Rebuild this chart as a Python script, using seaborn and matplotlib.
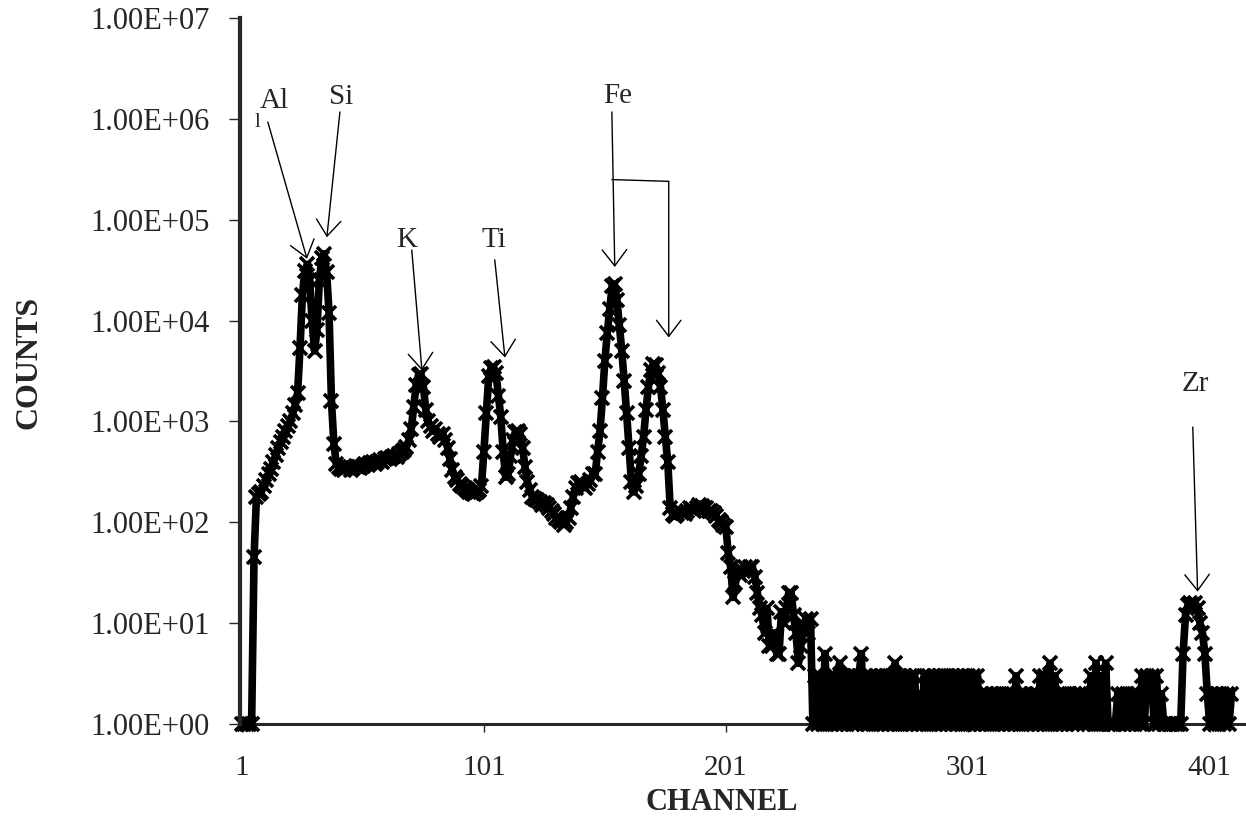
import numpy as np
import pandas as pd
import matplotlib
matplotlib.use("Agg")
import matplotlib.pyplot as plt
from matplotlib.ticker import FuncFormatter, NullLocator, FixedLocator
import seaborn as sns

# ---------------- data ----------------
# channels 1-100
counts_low = [1, 1, 1, 1, 1, 45, 180, 190, 200, 230,
              260, 300, 340, 400, 460, 540, 620, 700, 800, 900,
              1000, 1200, 1450, 1900, 5400, 18000, 31000, 36000, 25000, 10000,
              5000, 8000, 25000, 42000, 46000, 30000, 12000, 1600, 600, 380,
              350, 340, 330, 345, 350, 330, 345, 360, 350, 345,
              365, 375, 370, 385, 395, 380, 400, 410, 400, 420,
              430, 420, 440, 455, 440, 470, 500, 520, 560, 650,
              850, 1400, 2300, 2900, 2960, 2200, 1300, 1000, 900, 800,
              850, 750, 700, 750, 650, 550, 420, 330, 280, 260,
              240, 230, 220, 210, 200, 195, 190, 200, 210, 230]
# channels 101-236
counts_mid = [500, 1200, 2800, 3400, 3450, 3000, 1800, 1100, 500, 280,
              300, 450, 650, 780, 800, 750, 550, 350, 250, 210,
              180, 170, 165, 160, 150, 155, 150, 140, 130, 120,
              110, 105, 100, 95, 100, 110, 140, 180, 220, 245,
              250, 230, 220, 240, 260, 300, 300, 500, 800, 1700,
              4000, 7500, 13000, 22000, 23000, 16000, 9000, 5000, 2500, 1200,
              550, 250, 200, 230, 300, 450, 700, 1300, 2200, 3200,
              3700, 3600, 3000, 2200, 1300, 700, 400, 140, 120, 115,
              120, 130, 125, 120, 130, 140, 135, 130, 140, 150,
              145, 140, 140, 130, 130, 125, 115, 105, 100, 95,
              90, 50, 36, 18, 25, 33, 30, 33, 36, 33,
              36, 36, 29, 20, 14, 12, 8, 14, 6, 6,
              8, 5, 5, 13, 10, 14, 20, 20, 12, 8,
              4, 6, 9, 11, 8, 11]
# channels 237-388 (noise floor)
counts_noise = [1, 3, 1, 3, 1, 5, 1, 3, 1, 3,
                1, 4, 1, 3, 1, 3, 1, 3, 1, 3,
                5, 1, 3, 1, 3, 1, 3, 1, 3, 1,
                3, 1, 3, 1, 4, 1, 3, 1, 3, 1,
                3, 1, 3, 1, 2, 1, 3, 1, 3, 1,
                3, 1, 3, 1, 3, 1, 3, 1, 3, 1,
                3, 1, 3, 1, 3, 1, 3, 1, 3, 1,
                2, 1, 2, 1, 2, 1, 2, 1, 2, 1,
                2, 1, 2, 1, 3, 1, 2, 1, 2, 1,
                2, 1, 2, 1, 3, 1, 3, 1, 4, 1,
                3, 1, 2, 1, 2, 1, 2, 1, 2, 1,
                2, 2, 1, 2, 1, 3, 1, 4, 1, 3,
                1, 4, 1, 1, 1, 1, 2, 1, 2, 1,
                2, 1, 2, 1, 2, 1, 3, 1, 3, 2,
                3, 1, 3, 1, 2, 1, 1, 1, 1, 1,
                1, 1]
# channels 389-410 (Zr region)
counts_zr = [1, 5, 12, 15, 16, 15, 16, 14, 10, 8,
             5, 2, 1, 2, 1, 2, 1, 2, 1, 2,
             1, 2]

x_tick_values = [1, 101, 201, 301, 401]
y_tick_values = [1e0, 1e1, 1e2, 1e3, 1e4, 1e5, 1e6, 1e7]

# annotations: label, text position (channel, counts), arrow start, arrow tip
ann_labels = ["Al", "Si", "K", "Ti", "Fe", "Zr"]
ann_text_pos = [(14.2, 1.5e6), (41.9, 1.66e6), (69.2, 6.3e4),
                (105.0, 6.3e4), (156.4, 1.7e6), (395.2, 2.34e3)]
ann_arrow_from = [(11.7, 9.3e5), (41.5, 1.17e6), (71.2, 5.0e4),
                  (105.5, 4.0e4), (153.9, 1.17e6), (394.0, 8.8e2)]
ann_arrow_to = [(27.9, 4.1e4), (36.1, 6.7e4), (75.4, 3.2e3),
                (109.7, 4.3e3), (155.1, 3.4e4), (396.0, 20.5)]
# second Fe arrow (K-beta): branch start, corner, tip
fe_branch = [(153.9, 2.5e5), (177.4, 2.4e5), (177.4, 6.8e3)]

counts = np.array(counts_low + counts_mid + counts_noise + counts_zr, dtype=float)
channels = np.arange(1, len(counts) + 1)
df = pd.DataFrame({"CHANNEL": channels, "COUNTS": counts})

# ---------------- figure ----------------
sns.set_style("ticks")
plt.rcParams["font.family"] = ["Liberation Serif", "DejaVu Serif"]

fig = plt.figure(figsize=(12.46, 8.24), dpi=100)
ax = fig.add_axes([240 / 1246, 1 - 724 / 824, 1 - 240 / 1246, (724 - 18) / 824])

sns.lineplot(data=df, x="CHANNEL", y="COUNTS", ax=ax, estimator=None,
             color="black", linewidth=5.5, marker="x", markersize=10,
             markeredgewidth=2.6, markeredgecolor="black", clip_on=False,
             zorder=3)

ax.set_yscale("log")
ax.set_ylim(1, 1e7)
ax.set_xlim(0.2, 416)
ax.yaxis.set_major_locator(FixedLocator(y_tick_values))
ax.yaxis.set_minor_locator(NullLocator())
ax.yaxis.set_major_formatter(FuncFormatter(lambda v, _: f"{v:.2E}"))
ax.xaxis.set_major_locator(FixedLocator(x_tick_values))
ax.xaxis.set_minor_locator(NullLocator())

for s in ["top", "right"]:
    ax.spines[s].set_visible(False)
ax.spines["left"].set_linewidth(3.0)
ax.spines["bottom"].set_linewidth(2.2)
ax.spines["left"].set_zorder(4)

ax.tick_params(axis="y", direction="out", length=8, width=1.0, pad=14,
               labelsize=22, left=True)
ax.tick_params(axis="x", direction="out", length=6, width=1.0, pad=16,
               labelsize=21, bottom=True)

ax.set_xlabel("CHANNEL", fontsize=22, fontweight="bold")
ax.set_ylabel("COUNTS", fontsize=23, fontweight="bold")
ax.xaxis.set_label_coords((722 - 240) / 1006, (724 - 788) / 706)
ax.yaxis.set_label_coords((44 - 240) / 1006, (724 - 362) / 706)

arrow_kw = dict(arrowstyle="->,head_length=0.55,head_width=0.42",
                color="black", lw=1.0, shrinkA=0, shrinkB=0)
for lab, tpos, a0, a1 in zip(ann_labels, ann_text_pos, ann_arrow_from, ann_arrow_to):
    ax.text(tpos[0], tpos[1], lab, fontsize=21, ha="center", va="center")
    ax.annotate("", xy=a1, xytext=a0, arrowprops=arrow_kw, fontsize=21)

ax.text(7.6, 9.3e5, "l", fontsize=15, ha="center", va="center")
ax.annotate("", xy=fe_branch[1], xytext=fe_branch[0],
            arrowprops=dict(arrowstyle="-", color="black", lw=1.0,
                            shrinkA=0, shrinkB=0))
ax.annotate("", xy=fe_branch[2], xytext=fe_branch[1], arrowprops=arrow_kw,
            fontsize=21)

fig.savefig("out.png", dpi=100)
